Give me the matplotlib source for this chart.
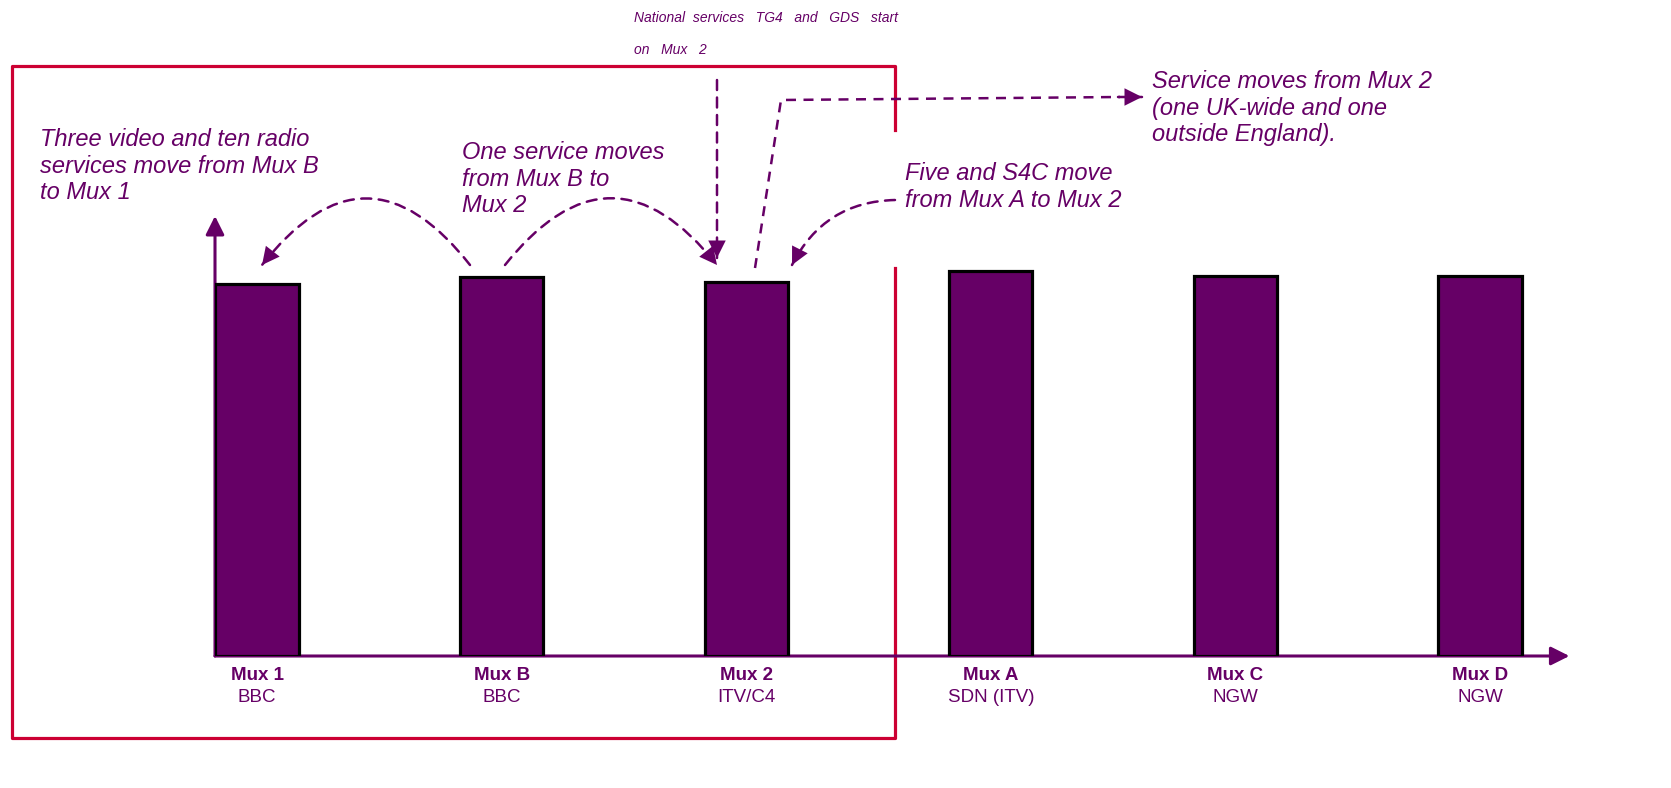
import matplotlib
matplotlib.use('Agg')
import matplotlib.pyplot as plt
from matplotlib.patches import FancyArrowPatch

plt.rcParams['font.family'] = ['Liberation Sans', 'DejaVu Sans']

# multiplex capacity chart
muxes = ['Mux 1', 'Mux B', 'Mux 2', 'Mux A', 'Mux C', 'Mux D']
operators = ['BBC', 'BBC', 'ITV/C4', 'SDN (ITV)', 'NGW', 'NGW']
heights = [9.3, 9.48, 9.35, 9.62, 9.5, 9.5]

PURPLE = '#660066'
RED = '#CC0033'
W, H = 1671, 788

fig = plt.figure(figsize=(W / 100, H / 100), dpi=100)

# overlay in pixel coords for the notes and the box
ov = fig.add_axes([0, 0, 1, 1])
ov.set_xlim(0, W)
ov.set_ylim(H, 0)
ov.axis('off')

ax = fig.add_axes([215 / W, (H - 656) / H, (1560 - 215) / W, 400 / H])
x = list(range(len(muxes)))
ax.bar(x, heights, width=0.34, color=PURPLE, edgecolor='black', linewidth=2.3, zorder=3)
ax.set_xlim(-0.172, 5.327)
ax.set_ylim(0, 10)
for s in ax.spines.values():
    s.set_visible(False)
ax.set_xticks([])
ax.set_yticks([])
ax.patch.set_alpha(0)

# axes with arrow heads
ax.annotate('', xy=(1.007, 0), xytext=(0, 0), xycoords='axes fraction',
            arrowprops=dict(arrowstyle='-|>', color=PURPLE, lw=2.2, mutation_scale=28,
                            shrinkA=0, shrinkB=0), zorder=2)
ax.annotate('', xy=(0, 1.1), xytext=(0, 0), xycoords='axes fraction',
            arrowprops=dict(arrowstyle='-|>', color=PURPLE, lw=2.2, mutation_scale=28,
                            shrinkA=0, shrinkB=0), zorder=2)

tr = ax.get_xaxis_transform()
for i, (m, op) in enumerate(zip(muxes, operators)):
    ax.text(i, -0.0475, m, transform=tr, ha='center', va='center', fontsize=13.5,
            fontweight='bold', color=PURPLE)
    ax.text(i, -0.1025, op, transform=tr, ha='center', va='center', fontsize=13.5,
            color=PURPLE)

# red box around first three muxes (right side hidden behind the note)
ov.plot([895, 895, 12, 12, 895, 895], [130, 66, 66, 738, 738, 268], color=RED, lw=2.3)

# notes
note = dict(color=PURPLE, fontsize=17, style='italic', va='top', ha='left')
ov.text(40, 128, 'Three video and ten radio\nservices move from Mux B\nto Mux 1', **note)
ov.text(462, 141, 'One service moves\nfrom Mux B to\nMux 2', **note)
ov.text(1152, 70, 'Service moves from Mux 2\n(one UK-wide and one\noutside England).', **note)
ov.text(905, 162, 'Five and S4C move\nfrom Mux A to Mux 2', **note)
ov.text(634, 11, 'National  services   TG4   and   GDS   start\non   Mux   2', color=PURPLE,
        fontsize=10, style='italic', va='top', ha='left', linespacing=2.6)

dash = (0, (4, 3))


def arrow(p0, p1, rad=0.0):
    # dashed shaft, then a solid head on top
    a = FancyArrowPatch(p0, p1, connectionstyle='arc3,rad=%s' % rad, arrowstyle='-',
                        color=PURPLE, lw=1.8, linestyle=dash, shrinkA=0, shrinkB=0)
    ov.add_patch(a)
    b = FancyArrowPatch(p0, p1, connectionstyle='arc3,rad=%s' % rad,
                        arrowstyle='-|>,head_length=0.6,head_width=0.3',
                        mutation_scale=21, color=PURPLE, lw=0, shrinkA=0, shrinkB=0)
    ov.add_patch(b)


arrow((470, 265), (262, 265), 0.64)
arrow((505, 265), (717, 265), -0.63)
arrow((717, 80), (717, 258))
arrow((895, 200), (792, 265), 0.3)
ov.plot([755, 781, 1120], [268, 100, 97], color=PURPLE, lw=1.8, linestyle=dash)
arrow((1118, 97), (1142, 97))

fig.savefig('out.png', dpi=100)
